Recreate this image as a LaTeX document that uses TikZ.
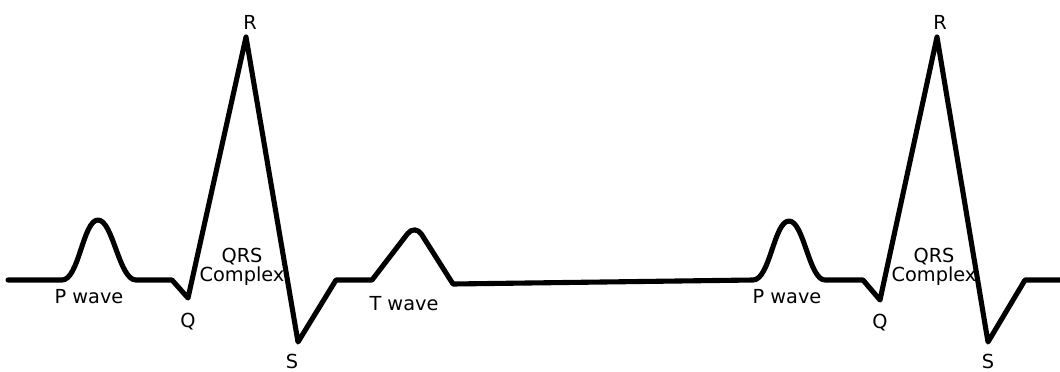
\documentclass[tikz,border=0pt]{standalone}
\usepackage{fontspec}
\setmainfont{DejaVu Sans}
\begin{document}
\begin{tikzpicture}[x=0.2mm,y=-0.2mm,every node/.style={font=\fontsize{11}{12}\selectfont,inner sep=1pt},
    ecg/.style={line width=2.9pt,line join=round,line cap=round}]
    % Trazo del ECG con dos latidos.
    \useasboundingbox (0,0) rectangle (1060,371);
    \coordinate (q1) at (188,298);
    \coordinate (r1) at (246,37);
    \coordinate (s1) at (298,342);
    \coordinate (q2) at (880,300);
    \coordinate (r2) at (937,37);
    \coordinate (s2) at (988,342);

    \draw[ecg] (8,280) -- (62,280)
        .. controls (79,280) and (83,220) .. (98,220)
        .. controls (113,220) and (119,280) .. (136,280)
        -- (172,280) -- (q1) -- (r1) -- (s1) -- (336,280) -- (372,280)
        [rounded corners=7] -- (415,224) [sharp corners] -- (453,284)
        -- (753,280)
        .. controls (770,280) and (774,221) .. (789,221)
        .. controls (804,221) and (809,280) .. (825,280)
        -- (863,280) -- (q2) -- (r2) -- (s2) -- (1025,280) -- (1060,280);

    \node (r1lab) at (250,22) {R};
    \node (q1lab) at (188,322) {Q};
    \node (s1lab) at (292,361) {S};
    \node (p1lab) at (89,297) {P wave};
    \node[align=center] (qrs1lab) at (242,267) {QRS\\[-1pt]Complex};
    \node (t1lab) at (404,304) {T wave};

    \node (r2lab) at (940,22) {R};
    \node (q2lab) at (880,323) {Q};
    \node (s2lab) at (988,361) {S};
    \node (p2lab) at (787,297) {P wave};
    \node[align=center] (qrs2lab) at (934,267) {QRS\\[-1pt]Complex};
\end{tikzpicture}
\end{document}
